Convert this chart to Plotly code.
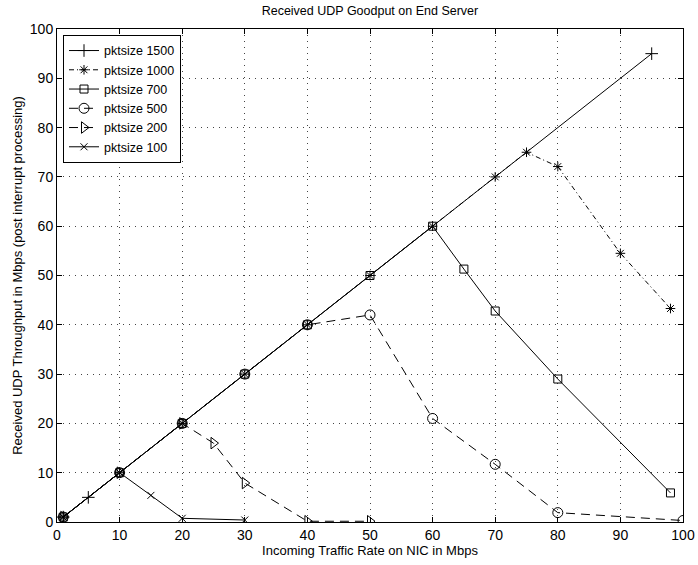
import plotly.graph_objects as go

# Data
names = ["pktsize 1500", "pktsize 1000", "pktsize 700", "pktsize 500", "pktsize 200", "pktsize 100"]

x1500 = [1, 5, 95]
y1500 = [1, 5, 95]

x1000 = [1, 10, 20, 30, 40, 50, 60, 70, 75, 80, 90, 98]
y1000 = [1, 10, 20, 30, 40, 50, 60, 70, 75, 72.1, 54.5, 43.3]

x700 = [1, 10, 20, 30, 40, 50, 60, 65, 70, 80, 98]
y700 = [1, 10, 20, 30, 40, 50, 60, 51.3, 42.8, 29.0, 5.9]

x500 = [1, 10, 20, 30, 40, 50, 60, 70, 80, 100]
y500 = [1, 10, 20, 30, 40, 42.0, 21.0, 11.7, 1.9, 0.3]

x200 = [1, 10, 20, 25, 30, 40, 50]
y200 = [1, 10, 20, 16.0, 7.9, 0.15, 0.15]

x100 = [1, 10, 15, 20, 30]
y100 = [1, 10, 5.4, 0.75, 0.4]

xs = [x1500, x1000, x700, x500, x200, x100]
ys = [y1500, y1000, y700, y500, y200, y100]

symbols = ["cross-thin-open", "asterisk-open", "square-open", "circle-open", "triangle-right-open", "x-thin-open"]
sizes = [9, 8, 8, 10, 10, 7]
dashes = ["solid", "5px,3px,1px,3px", "solid", "9px,6px", "9px,6px", "solid"]

fig = go.Figure()
for n, x, y, s, sz, d in zip(names, xs, ys, symbols, sizes, dashes):
    fig.add_trace(go.Scatter(
        x=x, y=y, name=n, mode="lines+markers",
        line=dict(color="black", width=1, dash=d),
        marker=dict(symbol=s, size=sz, color="black", line=dict(color="black", width=1)),
    ))

font = "Liberation Sans, Arial, Helvetica, sans-serif"
axis_common = dict(
    showline=True, linecolor="black", linewidth=1, mirror="allticks",
    ticks="inside", ticklen=5, tickcolor="black", automargin=False,
    showgrid=True, gridcolor="#444", gridwidth=1, griddash="1px,5px",
    zeroline=False, tickfont=dict(size=14, color="black", family=font),
)

fig.update_layout(
    width=698, height=565,
    margin=dict(l=57, r=15, t=29, b=43),
    paper_bgcolor="white", plot_bgcolor="white",
    font=dict(family=font, color="black", size=12),
    title=dict(text="Received UDP Goodput on End Server", x=0.53, xanchor="center",
               y=1 - 11 / 565, yanchor="middle", yref="container", automargin=False,
               font=dict(size=12.5, family=font, color="black")),
    xaxis=dict(range=[0, 100], dtick=10, title=dict(text="Incoming Traffic Rate on NIC in Mbps",
               font=dict(size=13), standoff=3), **axis_common),
    yaxis=dict(range=[0, 100], dtick=10, title=dict(text="Received UDP Throughput in Mbps (post interrupt processing)",
               font=dict(size=13), standoff=4), **axis_common),
    legend=dict(x=0.0096, y=0.988, xanchor="left", yanchor="top",
                bgcolor="white", bordercolor="black", borderwidth=1,
                font=dict(size=12.5, family=font, color="black"),
                tracegroupgap=0, itemwidth=30),
    showlegend=True,
)

fig.write_html(
    "out.html",
    config={"displayModeBar": False},
    post_script="document.body.style.margin='0';document.body.style.overflow='hidden';",
)
